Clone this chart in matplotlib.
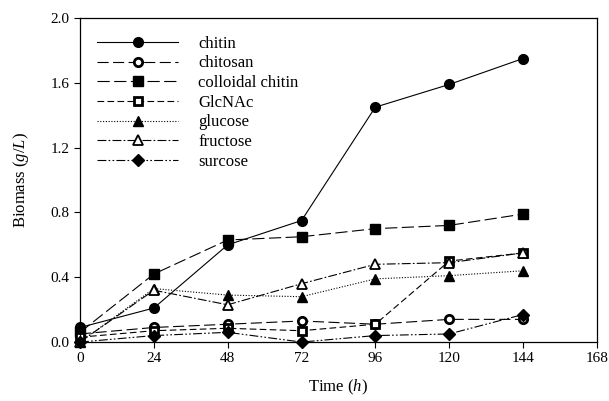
import matplotlib
matplotlib.use("Agg")
import matplotlib.pyplot as plt

time_h = [0, 24, 48, 72, 96, 120, 144]
chitin = [0.09, 0.21, 0.60, 0.75, 1.45, 1.59, 1.75]
chitosan = [0.05, 0.09, 0.11, 0.13, 0.11, 0.14, 0.14]
colloidal_chitin = [0.06, 0.42, 0.63, 0.65, 0.70, 0.72, 0.79]
glcnac = [0.03, 0.07, 0.085, 0.07, 0.11, 0.50, 0.55]
glucose = [0.0, 0.33, 0.29, 0.28, 0.39, 0.41, 0.44]
fructose = [0.0, 0.32, 0.23, 0.36, 0.48, 0.49, 0.55]
surcose = [0.0, 0.04, 0.06, 0.0, 0.04, 0.05, 0.17]

labels = ["chitin", "chitosan", "colloidal chitin", "GlcNAc", "glucose", "fructose", "surcose"]
xticks = [0, 24, 48, 72, 96, 120, 144, 168]
yticks = [0.0, 0.4, 0.8, 1.2, 1.6, 2.0]

plt.rcParams['font.family'] = ['Liberation Serif', 'DejaVu Serif']
plt.rcParams['mathtext.fontset'] = 'custom'
plt.rcParams['mathtext.rm'] = 'Liberation Serif'
plt.rcParams['mathtext.it'] = 'Liberation Serif:italic'

fig = plt.figure(figsize=(6.09, 4.01), dpi=100)
ax = fig.add_axes([0.1314, 0.147, 0.8486, 0.808])

series = [chitin, chitosan, colloidal_chitin, glcnac, glucose, fructose, surcose]
styles = [
    dict(ls='-', marker='o', mfc='black', ms=7),
    dict(ls=(0, (10, 4)), marker='o', mfc='white', ms=6, mew=2),
    dict(ls=(0, (11, 4)), marker='s', mfc='black', ms=6.5),
    dict(ls=(0, (6, 3)), marker='s', mfc='white', ms=6, mew=2),
    dict(ls=(0, (1, 1.5)), marker='^', mfc='black', ms=7),
    dict(ls=(0, (8, 2, 1.5, 2)), marker='^', mfc='white', ms=7, mew=1.3),
    dict(ls=(0, (8, 2, 1.5, 2, 1.5, 2)), marker='D', mfc='black', ms=6),
]
for y, lab, st in zip(series, labels, styles):
    ax.plot(time_h, y, color='black', lw=0.8, mec='black', label=lab, clip_on=False, **st)

ax.set_xlim(0, 168)
ax.set_ylim(0, 2.0)
ax.set_xticks(xticks)
ax.set_yticks(yticks)
ax.set_yticklabels([f"{v:.1f}" for v in yticks])
ax.tick_params(direction='out', length=4, width=0.8, labelsize=11, colors='black')
ax.set_xlabel("Time ($\\mathit{h}$)", fontsize=12, labelpad=9)
ax.set_ylabel("Biomass ($\\mathit{g/L}$)", fontsize=12, labelpad=14)
for s in ax.spines.values():
    s.set_linewidth(0.9)

leg = ax.legend(loc='upper left', frameon=False, fontsize=12, handlelength=4.9,
                handletextpad=1.2, labelspacing=0.22, bbox_to_anchor=(0.0, 0.997),
                borderaxespad=0.6)

fig.savefig("out.png", dpi=100)
